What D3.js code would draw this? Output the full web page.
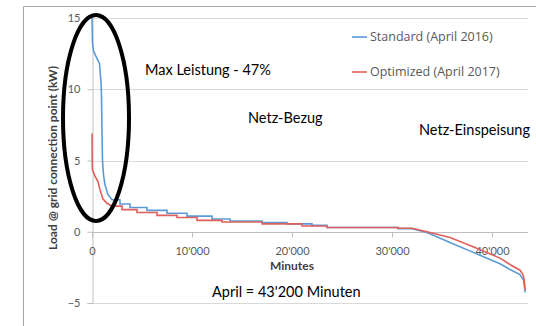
<!DOCTYPE html>
<html><head><meta charset="utf-8">
<script src="https://cdn.jsdelivr.net/npm/d3@7"></script>
<style>body{margin:0;background:#fff}svg{display:block}</style>
</head><body><svg id="c" width="536" height="326"></svg>
<script>
const yTicks = [-5, 0, 5, 10, 15];
const xTicks = [0, 10000, 20000, 30000, 40000];
const xTickLabels = ["0", "10'000", "20'000", "30'000", "40'000"];
const seriesNames = ["Standard (April 2016)", "Optimized (April 2017)"];
const standard = [[0,15],[50,13.2],[150,12.7],[400,12.3],[750,11.8],[900,10.5],[950,9.5],[1000,7],[1050,5],[1150,4],[1300,3.3],[1600,2.6],[2000,2.25],
  [2800,2.25],[2800,1.95],[3800,1.95],[3800,1.7],[5500,1.7],[5500,1.5],[7500,1.5],[7500,1.3],[9500,1.3],[9500,1.1],[12000,1.1],[12000,0.9],
  [13800,0.9],[13800,0.75],[17000,0.75],[17000,0.65],[19500,0.65],[19500,0.55],[22000,0.55],[22000,0.45],[23500,0.45],[23500,0.3],[30600,0.3],[30600,0.22],[32000,0.22],
  [33500,-0.05],[35800,-0.75],[38300,-1.5],[40800,-2.25],[41800,-2.65],[42800,-3.0],[43150,-3.4],[43250,-3.9],[43320,-4.25]];
const optimized = [[0,6.9],[30,4.4],[300,3.9],[600,3.5],[800,2.95],[1100,2.3],[1500,2.0],[2000,1.8],
  [3000,1.8],[3000,1.55],[4500,1.55],[4500,1.35],[6500,1.35],[6500,1.15],[8500,1.15],[8500,1.0],[10500,1.0],[10500,0.8],[13000,0.8],[13000,0.68],
  [17000,0.68],[17000,0.55],[21000,0.55],[21000,0.4],[23500,0.4],[23500,0.3],[30600,0.3],[30600,0.25],[32000,0.25],
  [33500,0.0],[35800,-0.4],[38300,-1.1],[40800,-1.85],[41800,-2.3],[42800,-2.7],[43100,-3.0],[43200,-3.3],[43280,-3.8],[43300,-4.1]];
const annotations = [
  {t:"Max Leistung - 47%", x:145, y:70},
  {t:"Netz-Bezug", x:248, y:118},
  {t:"Netz-Einspeisung", x:419, y:130},
  {t:"April = 43'200 Minuten", x:212, y:292}
];
const colors = ["#5b9bd5", "#e0605c"];

const svg = d3.select("#c");
const x = d3.scaleLinear().domain([0, 43600]).range([92, 528]);
const y = d3.scaleLinear().domain([-5, 15]).range([303, 18]);
const font = "Lato, 'Open Sans', sans-serif";

// outer frame
svg.append("path").attr("d","M23.5,340V6.5H540").attr("fill","none").attr("stroke","#a6a6a6");

// gridlines
svg.append("g").selectAll("line").data(yTicks.filter(d=>d!==0)).join("line")
  .attr("x1",92).attr("x2",528).attr("y1",d=>Math.round(y(d))+0.5).attr("y2",d=>Math.round(y(d))+0.5)
  .attr("stroke","#d9d9d9");

// y axis
const ya = svg.append("g").attr("transform","translate(92.5,0)")
  .call(d3.axisLeft(y).tickValues(yTicks).tickSize(5).tickPadding(7).tickFormat(d3.format("d")));
ya.select(".domain").attr("stroke","#bfbfbf");
ya.selectAll(".tick line").attr("stroke","#bfbfbf");
ya.selectAll("text").attr("fill","#595959").style("font-family",font).style("font-size","11px");

// x axis at 0
const xa = svg.append("g").attr("transform",`translate(0,${Math.round(y(0))+0.5})`)
  .call(d3.axisBottom(x).tickValues(xTicks).tickSize(5).tickPadding(10).tickFormat((d,i)=>xTickLabels[i]));
xa.select(".domain").attr("stroke","#bfbfbf").attr("d",`M92,0H528`);
xa.selectAll(".tick line").attr("stroke","#bfbfbf");
xa.selectAll("text").attr("fill","#595959").style("font-family",font).style("font-size","11px");

// axis titles
svg.append("text").attr("x",292).attr("y",270).attr("text-anchor","middle")
  .style("font-family",font).style("font-size","12px").style("font-weight","bold").attr("fill","#404040").text("Minutes");
svg.append("text").attr("transform","translate(57,158) rotate(-90)").attr("text-anchor","middle")
  .style("font-family",font).style("font-size","12px").style("font-weight","bold").attr("fill","#404040")
  .text("Load @ grid connection point (kW)");

// lines
const line = d3.line().x(d=>x(d[0])).y(d=>y(d[1]));
[standard, optimized].forEach((s,i)=>{
  svg.append("path").datum(s).attr("d",line).attr("fill","none")
    .attr("stroke",colors[i]).attr("stroke-width",1.6);
});

// legend
seriesNames.forEach((n,i)=>{
  const ly = 37 + i*35;
  svg.append("line").attr("x1",352).attr("x2",367).attr("y1",ly).attr("y2",ly).attr("stroke",colors[i]).attr("stroke-width",1.6);
  svg.append("text").attr("x",370).attr("y",ly+4).attr("fill","#595959")
    .style("font-family","'Open Sans', sans-serif").style("font-size","12.5px").text(n);
});

// annotations
annotations.forEach(a=>{
  svg.append("text").attr("x",a.x).attr("y",a.y+5).attr("fill","#000")
    .style("font-family",font).style("font-size","14.5px").text(a.t);
});

// ellipse
svg.append("ellipse").attr("cx",96).attr("cy",118).attr("rx",33).attr("ry",103)
  .attr("fill","none").attr("stroke","#000").attr("stroke-width",4);
</script></body></html>
